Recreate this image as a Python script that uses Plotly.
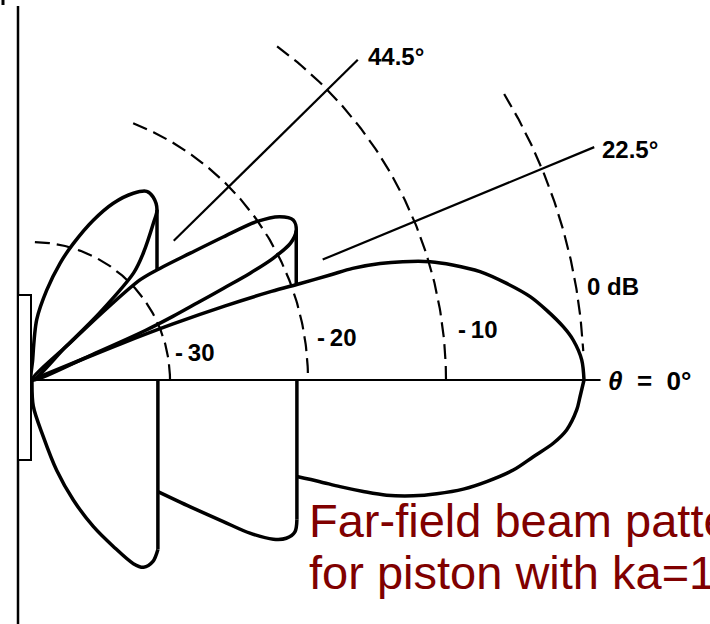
import numpy as np
import plotly.graph_objects as go

# Far-field beam pattern of a baffled piston, ka = 10, plotted as level (dB)
# against angle.  Upper half: polar cut; lower half: outline of the lobes.
FLOOR_DB = -40.0          # level that sits at the centre of the piston
PX_PER_DB = 13.8          # drawing scale

# ---- upper half, polar cut (angle in degrees, level in dB) ----
MAIN_LOBE_DEG = [0.0, 2.1, 4.2, 5.7, 7.7, 9.5, 11.5, 13.6, 15.3, 16.55, 17.7,
                 18.5, 19.2, 19.4, 19.8, 20.3, 21.0, 21.7, 22.2, 22.5]
MAIN_LOBE_DB = [0.0, -0.14, -0.67, -1.3, -2.36, -3.4, -4.9, -6.6, -8.4, -9.9, -11.8,
                -13.4, -15.4, -17.1, -19.4, -21.5, -25.0, -29.0, -33.0, -40.0]

SIDE1_DEG = [22.6, 23.0, 23.6, 24.3, 25.0, 25.6, 26.1, 26.8, 27.9, 29.5, 31.5,
             33.4, 35.2, 36.8, 38.7, 41.1, 42.8, 43.7, 44.2, 44.5]
SIDE1_DB = [-40.0, -35.0, -31.0, -28.8, -26.8, -24.6, -22.4, -20.4, -18.8, -18.0, -17.8,
            -18.5, -20.1, -22.7, -25.3, -27.7, -29.3, -32.5, -36.0, -40.0]

SIDE2_DEG = [44.7, 44.6, 44.8, 46.5, 48.7, 52.3, 53.7, 56.5, 58.7, 61.5, 65.3,
             69.0, 73.2, 76.5, 80.7, 85.5, 88.0, 90.0]
SIDE2_DB = [-40.0, -36.5, -33.1, -29.3, -27.8, -25.6, -24.7, -24.1, -24.0, -24.6, -25.9,
            -27.6, -29.7, -31.3, -33.4, -35.6, -38.5, -40.0]

# ---- lower half, outline of the lobes ----
LOWER_MAIN_DEG = [-19.8, -19.45, -19.1, -18.6, -18.0, -16.9, -15.7, -14.2, -12.6,
                  -10.6, -8.7, -6.92, -5.34, -3.15, -1.75, 0.0]
LOWER_MAIN_DB = [-19.36, -17.87, -16.38, -14.67, -12.98, -11.12, -9.53, -7.76, -6.24,
                 -4.52, -3.25, -1.95, -1.09, -0.47, -0.27, 0.0]

LOWER_SIDE1_DEG = [-41.1, -38.7, -36.5, -35.1, -33.4, -31.9, -30.0, -27.8]
LOWER_SIDE1_DB = [-27.7, -25.3, -22.75, -20.7, -19.05, -18.3, -18.0, -18.3]

LOWER_SIDE2_DEG = [-90.0, -87.2, -78.7, -74.7, -71.0, -67.3, -64.0, -61.1, -59.2,
                   -56.3, -53.4]
LOWER_SIDE2_DB = [-40.0, -38.1, -35.8, -33.2, -30.8, -28.5, -26.6, -24.8, -24.2,
                  -24.2, -24.7]

# ---- reference rings and null directions ----
RING_LEVELS_DB = [0, -10, -20, -30]
RING_LABELS = ["0 dB", "-\u200910", "-\u200920", "-\u200930"]
NULL_ANGLES_DEG = [22.5, 44.5]
NULL_LABELS = ["22.5°", "44.5°"]


def to_xy(deg, db):
    t = np.radians(np.asarray(deg, float))
    rho = np.asarray(db, float) - FLOOR_DB
    return rho * np.cos(t), rho * np.sin(t)


def px(xp, yp):
    """Pixel position in the 710x624 page -> data units."""
    return (xp - 32) / PX_PER_DB, (380 - yp) / PX_PER_DB


fig = go.Figure()
INK = "black"
LOBE_W = 3.5


def curve(x, y, width=LOBE_W, shape="spline", dash=None):
    fig.add_trace(go.Scatter(
        x=x, y=y, mode="lines", hoverinfo="skip",
        line=dict(color=INK, width=width, shape=shape, smoothing=0.9, dash=dash)))


# dashed level rings
RING_SPAN = {0: (31.2, 3.0), -10: (53.7, 0.0), -20: (68.5, 0.0), -30: (88.8, 0.0)}
for lvl in RING_LEVELS_DB:
    a0, a1 = RING_SPAN[lvl]
    ang = np.linspace(a0, a1, 120)
    rx, ry = to_xy(ang, np.full_like(ang, lvl, dtype=float))
    curve(rx, ry, width=2.2, shape="linear", dash="15px,7px")

# null direction lines
NULL_LINE_DB = {22.5: (-17.2, 4.1), 44.5: (-25.6, -6.9)}
for a in NULL_ANGLES_DEG:
    lo, hi = NULL_LINE_DB[a]
    lx, ly = to_xy([a, a], [lo, hi])
    curve(lx, ly, width=2.2, shape="linear")

# axis theta = 0
ax_x, ax_y = to_xy([0, 0], [FLOOR_DB, 1.2])
curve(ax_x, ax_y, width=2.2, shape="linear")

# upper lobes
mx, my = to_xy(MAIN_LOBE_DEG, MAIN_LOBE_DB)
s1x, s1y = to_xy(SIDE1_DEG, SIDE1_DB)
s2x, s2y = to_xy(SIDE2_DEG, SIDE2_DB)
for cx, cy in [(mx, my), (s1x, s1y), (s2x, s2y)]:
    curve(cx, cy)


def rim_drop(lx, ly, ux, uy):
    i = int(np.argmax(lx))
    order = np.argsort(ux)
    ybot = np.interp(lx[i], ux[order], uy[order])
    return [lx[i], lx[i]], [ly[i], ybot]


i1 = int(np.argmax(s1x))
rx1, ry1 = rim_drop(s1x, s1y, mx, my)
rx2, ry2 = rim_drop(s2x, s2y, s1x[i1:], s1y[i1:])
curve(rx1, ry1, shape="linear")
curve(rx2, ry2, shape="linear")

# lower outline
l2x, l2y = to_xy(LOWER_SIDE2_DEG, LOWER_SIDE2_DB)
l1x, l1y = to_xy(LOWER_SIDE1_DEG, LOWER_SIDE1_DB)
lmx, lmy = to_xy(LOWER_MAIN_DEG, LOWER_MAIN_DB)
l1x[0] = l2x[-1]
lmx[0] = l1x[-1]
curve(l2x, l2y)
curve(l1x, l1y)
curve(lmx, lmy)
curve([l2x[-1], l2x[-1]], [l2y[-1], 0.0], shape="linear")
curve([l1x[-1], l1x[-1]], [l1y[-1], 0.0], shape="linear")

# baffle wall and piston
wx0, wy0 = px(18, 6)
wx1, wy1 = px(18, 624)
curve([wx0, wx1], [wy0, wy1], width=2.5, shape="linear")
tkx0, tky0 = px(3, 0)
tkx1, tky1 = px(3, 5)
curve([tkx0, tkx1], [tky0, tky1], width=3, shape="linear")
pxl, pyt = px(18, 295)
pxr, pyb = px(31, 460)
fig.add_shape(type="rect", x0=pxl, x1=pxr, y0=pyb, y1=pyt, xref="x", yref="y",
              line=dict(color=INK, width=2), fillcolor="white", layer="above")

# labels
LABEL_FONT = dict(family="Liberation Sans, Arial, sans-serif", size=24, color=INK,
                  weight="bold")
label_pos = {
    "44.5°": (366, 56.5), "22.5°": (600, 149),
    "0 dB": (585, 286), "-\u200910": (456, 329), "-\u200920": (315, 337.5),
    "-\u200930": (173, 352),
}
for text in NULL_LABELS + RING_LABELS:
    x, y = px(*label_pos[text])
    fig.add_annotation(x=x, y=y, text=text, showarrow=False, xanchor="left",
                       yanchor="middle", font=LABEL_FONT)

tx, ty = px(606, 381)
fig.add_annotation(x=tx, y=ty, text="<i>θ</i>&nbsp;&nbsp;=&nbsp;&nbsp;0°", showarrow=False,
                   xanchor="left", yanchor="middle", font=dict(LABEL_FONT, size=26))

CAPTION_FONT = dict(family="Liberation Sans, Arial, sans-serif", size=47, color="#800000")
for line, yc in [("Far-field beam pattern", 520), ("for piston with ka=10", 572)]:
    x, y = px(307, yc)
    fig.add_annotation(x=x, y=y, text=line, showarrow=False, xanchor="left",
                       yanchor="middle", font=CAPTION_FONT)

fig.update_layout(
    width=710, height=624, autosize=False,
    margin=dict(l=0, r=0, t=0, b=0),
    paper_bgcolor="white", plot_bgcolor="white",
    showlegend=False,
    xaxis=dict(range=[-32 / PX_PER_DB, 678 / PX_PER_DB], visible=False, fixedrange=True),
    yaxis=dict(range=[-244 / PX_PER_DB, 380 / PX_PER_DB], visible=False, fixedrange=True),
)

fig.write_html("out.html")
